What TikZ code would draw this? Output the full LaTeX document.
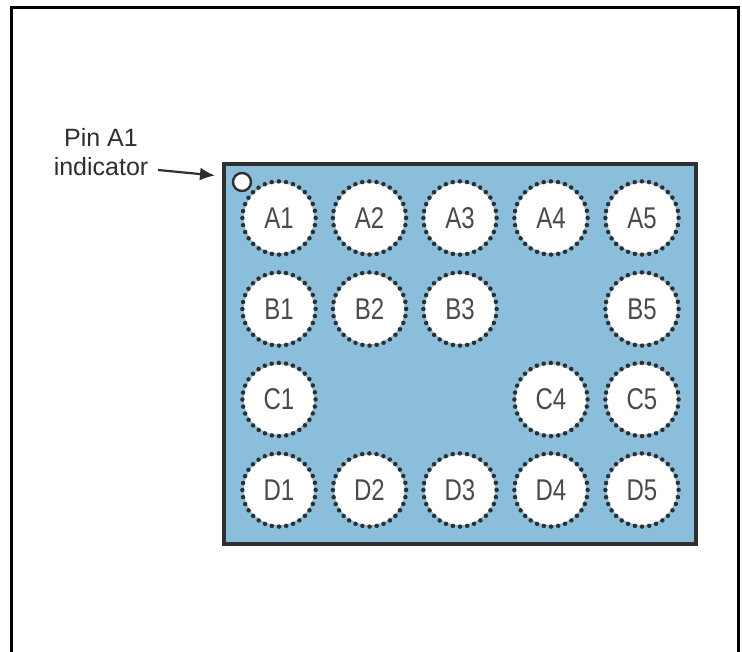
\documentclass[tikz,border=0pt]{standalone}
\usepackage{fontspec}
\setmainfont{Liberation Sans}
\usetikzlibrary{arrows.meta}
\definecolor{chipblue}{HTML}{8BBEDB}
\definecolor{ink}{HTML}{2F2F31}
\definecolor{softink}{HTML}{4A4A4C}
\tikzset{
  x=1pt,y=-1pt,
  frameline/.style={draw=black,line width=3.4pt},
  chip/.style={draw=ink,line width=3.05pt,fill=chipblue,miter limit=10},
  pinpad/.style={circle,fill=white,minimum size=70pt,inner sep=0pt,text=softink,
    font=\fontsize{30pt}{30pt}\selectfont},
  pindots/.style={draw=ink,line width=4.5pt,line cap=round,dash pattern=on 0pt off 7.19pt},
  marker/.style={circle,draw=ink,fill=white,line width=2.4pt,minimum size=18pt,inner sep=0pt},
  callout/.style={text=ink,align=center,font=\fontsize{25pt}{29pt}\selectfont},
  pointer/.style={draw=ink,line width=2.2pt,-{Latex[length=15pt,width=13pt]}}
}
\newcommand{\pinat}[3]{%
  \node[pinpad] (#3) at (#1,#2) {\scalebox{0.8}[1]{#3}};
  \draw[pindots] (#1,#2) ++(180:36.6) arc[start angle=180,end angle=-180,radius=36.6];
}
\begin{document}
\begin{tikzpicture}
\useasboundingbox (0,0) rectangle (742,652);
\fill[white] (0,0) rectangle (742,652);
\draw[frameline] (11.5,652) -- (11.5,7.5) -- (738.5,7.5) -- (738.5,652);
\draw[chip] (224,164) rectangle (696,544);
\pinat{279}{218}{A1}
\pinat{369.5}{218}{A2}
\pinat{460}{218}{A3}
\pinat{551}{218}{A4}
\pinat{642}{218}{A5}
\pinat{279}{309}{B1}
\pinat{369.5}{309}{B2}
\pinat{460}{309}{B3}
\pinat{642}{309}{B5}
\pinat{279}{399.5}{C1}
\pinat{551}{399.5}{C4}
\pinat{642}{399.5}{C5}
\pinat{279}{490}{D1}
\pinat{369.5}{490}{D2}
\pinat{460}{490}{D3}
\pinat{551}{490}{D4}
\pinat{642}{490}{D5}
\node[marker] (mark) at (242,182) {};
\node[callout] (label) at (101,152.5) {Pin A1\\indicator};
\coordinate (tipstart) at (158,170);
\coordinate (tipend) at (215,175.5);
\draw[pointer] (tipstart) -- (tipend);
\end{tikzpicture}
\end{document}
